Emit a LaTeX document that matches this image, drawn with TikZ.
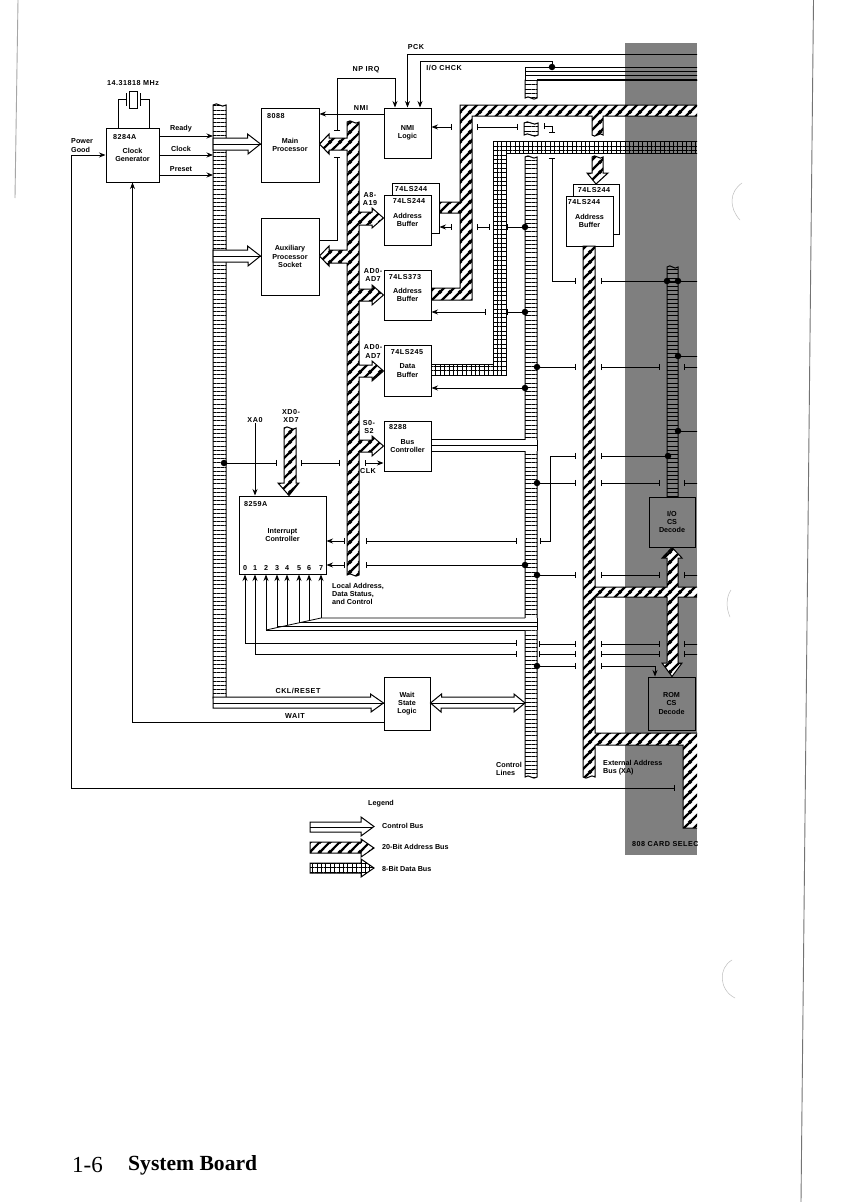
\documentclass[tikz,border=0pt]{standalone}
\usepackage{fontspec}
\setmainfont{Liberation Sans}
\newfontfamily\lblfont{Liberation Sans}
\newfontfamily\idfont[LetterSpace=7]{Liberation Sans}
\newfontfamily\pagefont{Liberation Serif}
\usetikzlibrary{patterns, patterns.meta, arrows.meta}
\pgfdeclarepatternformonly{addrstripes}{\pgfqpoint{0pt}{0pt}}{\pgfqpoint{10pt}{10pt}}{\pgfqpoint{10pt}{10pt}}{
    \pgfsetlinewidth{2.4pt}
    \pgfpathmoveto{\pgfqpoint{-2pt}{-2pt}}\pgfpathlineto{\pgfqpoint{12pt}{12pt}}
    \pgfpathmoveto{\pgfqpoint{-12pt}{-2pt}}\pgfpathlineto{\pgfqpoint{2pt}{12pt}}
    \pgfpathmoveto{\pgfqpoint{-2pt}{-12pt}}\pgfpathlineto{\pgfqpoint{12pt}{2pt}}
    \pgfusepath{stroke}}
\tikzstyle{block} = [rectangle, draw=black, fill=white, line width=1pt, inner sep=0pt, text centered, align=center, font=\lblfont\bfseries\fontsize{7.2}{8.3}\selectfont]
\tikzstyle{lbl} = [inner sep=0pt, align=center, font=\lblfont\bfseries\fontsize{7.2}{8.3}\selectfont]
\tikzstyle{leftlbl} = [lbl, anchor=west, align=left]
\tikzstyle{partid} = [inner sep=0pt, align=center, font=\idfont\bfseries\fontsize{7.2}{8.3}\selectfont]
\tikzstyle{wire} = [line width=.8pt]
\tikzstyle{arrow} = [wire,->,>={Stealth[length=6.5pt,width=5pt]}]
\tikzstyle{brk} = [wire,|-|]
\tikzstyle{dot} = [circle, fill=black, inner sep=0pt, minimum size=6.5pt]
\tikzstyle{ladder} = [draw=black, line width=1pt, preaction={fill=white}, pattern={Lines[angle=0,distance=4.2pt,line width=.8pt]}]
\tikzstyle{ctrlbus} = [draw=black, fill=white, line width=1pt]
\tikzstyle{addrbus} = [draw=black, line width=1pt, preaction={fill=white}, pattern=addrstripes]
\tikzstyle{databus} = [draw=black, line width=1pt, preaction={fill=white}, pattern={Hatch[distance=4.4pt,line width=.5pt]}]
\tikzstyle{scanmark} = [line width=.5pt, draw=black!25]
\begin{document}
\begin{tikzpicture}[x=1pt,y=-1pt]
    \useasboundingbox (0,0) rectangle (858,1202);
    \fill [white] (0,0) rectangle (858,1202);

    % columns the wires stop at
    \coordinate (lbusW) at (213,0);
    \coordinate (lbusE) at (226,0);
    \coordinate (cbusW) at (525,0);
    \coordinate (cbusE) at (537,0);
    \coordinate (brkA) at (576,0);
    \coordinate (brkB) at (601,0);
    \coordinate (brkC) at (660,0);
    \coordinate (brkD) at (684,0);
    \coordinate (brkE) at (452,0);
    \coordinate (brkF) at (477,0);
    \coordinate (brkG) at (507,0);
    \coordinate (brkH) at (366,0);
    \coordinate (brkI) at (517,0);
    \coordinate (brkJ) at (345,0);
    \coordinate (cutR) at (702,0);

    \begin{scope}
    \clip (0,0) rectangle (697,1202);

    % control buses
    \draw [ladder] (213,105) .. controls (218,101) and (221,109) .. (226,105) -- (226,698) -- (213,698) -- cycle;
    \draw [ladder] (525,157) .. controls (529,153) and (533,161) .. (537,157) -- (537,777) .. controls (533,781) and (529,773) .. (525,777) -- cycle;
    \draw [ladder] (667,267) .. controls (671,263) and (674,271) .. (678,267) -- (678,497) -- (667,497) -- cycle;
    \draw [ladder] (524,123) .. controls (528,119) and (534,127) .. (538,123) -- (538,135) .. controls (534,139) and (528,131) .. (524,135) -- cycle;
    \draw [ladder] (525,80) -- (537,80) -- (537,98) .. controls (533,102) and (529,94) .. (525,98) -- cycle;
    \draw [ctrlbus] (702,67) -- (525,67) -- (525,80) -- (537,80) -- (702,80) -- cycle;
    \draw [wire] (525,71) -- (cutR |- 0,71);
    \draw [wire] (525,75) -- (cutR |- 0,75);
    \draw [line width=1.6pt] (537,80) -- (cutR |- 0,80);

    % blocks
    \node (clockgen) [block, minimum width=53pt, minimum height=54pt] at (132.5,155) {Clock\\Generator};
    \node (crystal) [block, minimum width=8pt, minimum height=17pt] at (133,99.5) {};
    \node (mainproc) [block, minimum width=58pt, minimum height=74pt] at (290,145) {Main\\Processor};
    \node (auxproc) [block, minimum width=58pt, minimum height=77pt] at (290,256.5) {Auxiliary\\Processor\\Socket};
    \node (nmilogic) [block, minimum width=47pt, minimum height=50pt] at (407.5,133) {NMI\\Logic};
    \node (addrbackA) [block, minimum width=47pt, minimum height=50pt] at (415.5,208) {};
    \node (addrfrontA) [block, minimum width=47pt, minimum height=50pt] at (407.5,220) {Address\\Buffer};
    \node (addrbufB) [block, minimum width=47pt, minimum height=50pt] at (407.5,295) {Address\\Buffer};
    \node (databuf) [block, minimum width=47pt, minimum height=51pt] at (407.5,370.5) {Data\\Buffer};
    \node (busctl) [block, minimum width=47pt, minimum height=50pt] at (407.5,446) {Bus\\Controller};
    \node (intctl) [block, minimum width=87pt, minimum height=78pt] at (282.5,535) {Interrupt\\Controller};
    \node (waitstate) [block, minimum width=46pt, minimum height=53pt] at (407,703.5) {Wait\\State\\Logic};
    \node (addrbackB) [block, minimum width=46pt, minimum height=50pt] at (596,209) {};
    \node (addrfrontB) [block, minimum width=47pt, minimum height=50pt] at (589.5,221) {Address\\Buffer};
    \node (iocs) [block, minimum width=46pt, minimum height=50pt] at (672,522) {I/O\\CS\\Decode};
    \node (romcs) [block, minimum width=47pt, minimum height=53pt] at (671.5,703.5) {ROM\\CS\\Decode};

    % part numbers
    \node (clockid) [partid, anchor=west] at (113,137) {8284A};
    \node (mainid) [partid, anchor=west] at (267,116) {8088};
    \node (backidA) [partid] at (411,189) {74LS244};
    \node (frontidA) [partid] at (409,201) {74LS244};
    \node (bufidB) [partid] at (405,277) {74LS373};
    \node (dataid) [partid] at (407,352) {74LS245};
    \node (busid) [partid, anchor=west] at (389,427) {8288};
    \node (intid) [partid, anchor=west] at (244,504) {8259A};
    \node (backidB) [partid] at (594,190) {74LS244};
    \node (frontidB) [partid] at (584,202) {74LS244};
    \node (irq0) [partid] at (245,568) {0};
    \node (irq1) [partid] at (255,568) {1};
    \node (irq2) [partid] at (266,568) {2};
    \node (irq3) [partid] at (277,568) {3};
    \node (irq4) [partid] at (287,568) {4};
    \node (irq5) [partid] at (299,568) {5};
    \node (irq6) [partid] at (309,568) {6};
    \node (irq7) [partid] at (321,568) {7};

    % labels
    \node (xtallbl) [partid] at (133,83) {14.31818 MHz};
    \node (pwrlbl) [leftlbl] at (71,145.5) {Power\\Good};
    \node (readylbl) [lbl] at (181,129) {Ready};
    \node (clocklbl) [lbl] at (181,149) {Clock};
    \node (presetlbl) [lbl] at (181,169) {Preset};
    \node (nplbl) [partid] at (366,70) {NP IRQ};
    \node (nmilbl) [partid] at (361,108) {NMI};
    \node (pcklbl) [partid] at (416,47) {PCK};
    \node (iolbl) [partid] at (444,68) {I/O CHCK};
    \node (a8lbl) [partid] at (370,199) {A8-\\A19};
    \node (ad0lblA) [partid] at (373,275) {AD0-\\AD7};
    \node (ad0lblB) [partid] at (373,351.5) {AD0-\\AD7};
    \node (s0lbl) [partid] at (369,427) {S0-\\S2};
    \node (clklbl) [partid] at (368,471) {CLK};
    \node (xa0) [partid] at (255,420) {XA0};
    \node (xd0) [partid] at (291,416) {XD0-\\XD7};
    \node (locallbl) [leftlbl] at (332,594) {Local Address,\\Data Status,\\and Control};
    \node (ckllbl) [partid] at (298,691) {CKL/RESET};
    \node (waitlbl) [partid] at (295,716) {WAIT};
    \node (ctllbl) [leftlbl] at (496,769) {Control\\Lines};
    \node (extlbl) [leftlbl] at (603,767.5) {External Address\\Bus (XA)};
    \node (cardlbl) [partid, anchor=west] at (632,844) {808 CARD SELECT};
    \node (legendlbl) [lbl] at (381,804) {Legend};
    \node (legctrl) [leftlbl] at (382,826) {Control Bus};
    \node (legaddr) [leftlbl] at (382,847) {20-Bit Address Bus};
    \node (legdata) [leftlbl] at (382,869) {8-Bit Data Bus};

    % crystal
    \coordinate (xtalL) at (126,99.5);
    \coordinate (xtalR) at (140,99.5);
    \draw [wire] (126,93) -- (126,106);
    \draw [wire] (140,93) -- (140,106);
    \draw [wire] (xtalL) -| (118,0 |- clockgen.north);
    \draw [wire] (xtalR) -| (149,0 |- clockgen.north);

    % clock generator wires
    \draw [arrow] (clockgen.east |- 0,136) -- (lbusW |- 0,136);
    \draw [arrow] (clockgen.east |- 0,155) -- (lbusW |- 0,155);
    \draw [arrow] (clockgen.east |- 0,175) -- (lbusW |- 0,175);
    \coordinate (brkPwr) at (675,788);
    \draw [arrow,|->] (brkPwr) -| (71,155) -- (clockgen.west);
    \draw [arrow] (waitstate.west |- 0,722) -| (clockgen.south);

    % NMI wires
    \node (iochk) [dot] at (552,67) {};
    \draw [arrow] (nmilogic.west |- 0,114) -- (mainproc.east |- 0,114);
    \draw [arrow,|->] (337,131) |- (395,78) -- (395,0 |- nmilogic.north);
    \draw [wire,-|] (auxproc.east |- 0,240) -| (337,157);
    \draw [arrow] (cutR |- 0,54) -| (nmilogic.north);
    \draw [arrow] (iochk) -- (552,61) -- (420,61) -- (420,0 |- nmilogic.north);
    \draw [arrow,|->] (brkE |- 0,127) -- (nmilogic.east |- 0,127);
    \draw [brk] (brkF |- 0,127) -- (518,127);
    \draw [brk] (544,126) -- (552,126) -- (552,133);

    % buffer wires
    \node (d227) [dot] at (525,227) {};
    \node (d312) [dot] at (525,312) {};
    \node (d388) [dot] at (525,388) {};
    \draw [arrow,|->] (brkE |- d227) -- (addrbackA.east |- d227);
    \draw [brk] (brkF |- d227) -- (490,227);
    \draw [wire,|-] (brkG |- d227) -- (d227);
    \draw [arrow,|->] (486,312) -- (addrbufB.east |- d312);
    \draw [wire,|-] (brkG |- d312) -- (d312);
    \draw [arrow] (d388) -- (databuf.east |- d388);
    \draw [arrow,|->] (365,463) -- (busctl.west |- 0,463);

    % wires to the right of the control bus
    \draw [brk] (552,158) |- (brkA |- 0,281);
    \node (d281a) [dot] at (667,281) {};
    \node (d281b) [dot] at (678,281) {};
    \draw [wire,|-] (brkB |- d281a) -- (cutR |- d281a);
    \node (d356) [dot] at (678,356) {};
    \draw [wire] (d356) -- (cutR |- d356);
    \node (d431) [dot] at (678,431) {};
    \draw [wire] (d431) -- (cutR |- d431);
    \node (d367) [dot] at (537,367) {};
    \draw [wire,-|] (d367) -- (brkA |- d367);
    \draw [brk] (brkB |- d367) -- (brkC |- d367);
    \draw [wire,|-] (brkD |- d367) -- (cutR |- d367);
    \node (d456) [dot] at (668,456) {};
    \draw [brk] (540,541) -- (550,541) -- (550,456) -- (brkA |- d456);
    \draw [wire,|-] (brkB |- d456) -- (d456);
    \node (d483) [dot] at (537,483) {};
    \draw [wire,-|] (d483) -- (brkA |- d483);
    \draw [brk] (brkB |- d483) -- (brkC |- d483);
    \draw [wire,|-] (brkD |- d483) -- (cutR |- d483);
    \node (d575) [dot] at (537,575) {};
    \draw [wire,-|] (d575) -- (brkA |- d575);
    \draw [brk] (brkB |- d575) -- (brkC |- d575);
    \draw [wire,|-] (brkD |- d575) -- (cutR |- d575);
    \draw [brk] (539,644) -- (brkA |- 0,644);
    \draw [brk] (brkB |- 0,644) -- (brkC |- 0,644);
    \draw [wire,|-] (brkD |- 0,644) -- (cutR |- 0,644);
    \draw [brk] (539,654) -- (brkA |- 0,654);
    \draw [brk] (brkB |- 0,654) -- (brkC |- 0,654);
    \draw [wire,|-] (brkD |- 0,654) -- (cutR |- 0,654);
    \node (d666) [dot] at (537,666) {};
    \draw [wire,-|] (d666) -- (brkA |- d666);
    \draw [arrow,|->] (brkB |- d666) -| (655,0 |- romcs.north);

    % interrupt controller wires
    \node (d463) [dot] at (224,463) {};
    \draw [wire,-|] (d463) -- (277,463);
    \draw [brk] (301,463) -- (340,463);
    \draw [arrow] (xa0.south) -- (xa0 |- intctl.north);
    \draw [arrow,|->] (brkJ |- 0,541) -- (intctl.east |- 0,541);
    \draw [brk] (brkH |- 0,541) -- (brkI |- 0,541);
    \node (d565) [dot] at (525,565) {};
    \draw [arrow,|->] (brkJ |- d565) -- (intctl.east |- d565);
    \draw [wire,|-] (brkH |- d565) -- (d565);
    \draw [arrow,|->] (brkI |- 0,643) -| (irq0 |- intctl.south);
    \draw [arrow,|->] (brkI |- 0,654) -| (irq1 |- intctl.south);
    \draw [arrow] (irq2 |- 0,630) -- (irq2 |- intctl.south);
    \draw [arrow] (irq3 |- 0,627.6) -- (irq3 |- intctl.south);
    \draw [arrow] (irq4 |- 0,625.4) -- (irq4 |- intctl.south);
    \draw [arrow] (irq5 |- 0,622.8) -- (irq5 |- intctl.south);
    \draw [arrow] (irq6 |- 0,620.6) -- (irq6 |- intctl.south);
    \draw [arrow] (irq7 |- 0,618) -- (irq7 |- intctl.south);
    \fill [white] (irq2 |- 0,630) -- (irq7 |- 0,618) -- (cbusE |- 0,618) -- (cbusE |- 0,630) -- cycle;
    \draw [wire] (irq2 |- 0,630) -- (irq7 |- 0,618) -- (cbusW |- 0,618);
    \draw [wire] (irq5 |- 0,622) -- (cbusE |- 0,622);
    \draw [wire] (irq3 |- 0,626) -- (cbusE |- 0,626);
    \draw [wire] (irq2 |- 0,630) -- (cbusW |- 0,630);
    \draw [wire] (cbusE |- 0,618) -- (cbusE |- 0,630);

    % control bus arrows
    \draw [ctrlbus] (mainproc.west |- 0,144) -- ++(-13,-10) -- ++(0,4) -- (213,138) -- (213,150) -- (248,150) -- ++(0,4) -- cycle;
    \draw [wire] (lbusW |- 0,144) -- (mainproc.west |- 0,144);
    \draw [ctrlbus] (auxproc.west |- 0,256) -- ++(-13,-10) -- ++(0,4) -- (213,250) -- (213,262) -- (248,262) -- ++(0,4) -- cycle;
    \draw [wire] (lbusW |- 0,256) -- (auxproc.west |- 0,256);
    \draw [ctrlbus] (waitstate.west |- 0,703) -- ++(-13,-9) -- ++(0,3) -- (226,697) -- (213,697) -- (213,708) -- (371,708) -- ++(0,4) -- cycle;
    \draw [wire] (lbusW |- 0,703) -- (waitstate.west |- 0,703);
    \draw [ctrlbus] (waitstate.east |- 0,703) -- ++(11,-9) -- ++(0,3) -- (514,697) -- ++(0,-3) -- (cbusW |- 0,703) -- (514,712) -- ++(0,-4) -- (441,708) -- ++(0,4) -- cycle;
    \draw [wire] (waitstate.east |- 0,703) -- (cbusW |- 0,703);
    \fill [white] (busctl.east |- 0,440) rectangle (cbusE |- 0,451);
    \draw [line width=1.6pt] (busctl.east |- 0,439.5) -- (cbusW |- 0,439.5);
    \draw [line width=1.6pt] (busctl.east |- 0,451.5) -- (cbusW |- 0,451.5);
    \draw [wire] (busctl.east |- 0,445.5) -- (cbusE |- 0,445.5);
    \draw [wire] (cbusE |- 0,440) -- (cbusE |- 0,451);

    % data bus
    \draw [databus] (702,141) -- (493,141) -- (493,364) -- (databuf.east |- 0,364) -- (databuf.east |- 0,375) -- (506,375) -- (506,153) -- (702,153) -- cycle;

    % legend
    \draw [ctrlbus] (310,822) -- (361,822) -- ++(0,-5) -- (374,826.5) -- (361,836) -- ++(0,-4) -- (310,832) -- cycle;
    \draw [wire] (310,827) -- (372,827);
    \draw [databus] (310,863) -- (361,863) -- ++(0,-4) -- (374,868) -- (361,877) -- ++(0,-4) -- (310,873) -- cycle;

    % shaded area
    \fill [black, fill opacity=.5] (625,43) rectangle (697,855);

    % address buses
    \draw [addrbus] (310,842) -- (361,842) -- ++(0,-3) -- (374,848) -- (361,857) -- ++(0,-4) -- (310,853) -- cycle;
    \draw [addrbus] (347,122) .. controls (351,118) and (355,126) .. (359,122)
        -- (359,212) -- (372,212) -- (372,208) -- (addrfrontA.west |- 0,218) -- (372,228) -- (372,225) -- (359,225)
        -- (359,289) -- (372,289) -- (372,285) -- (addrbufB.west |- 0,295) -- (372,305) -- (372,301) -- (359,301)
        -- (359,365) -- (372,365) -- (372,361) -- (databuf.west |- 0,371) -- (372,381) -- (372,377) -- (359,377)
        -- (359,440) -- (372,440) -- (372,436) -- (busctl.west |- 0,446) -- (372,456) -- (372,452) -- (359,452)
        -- (359,575) .. controls (355,579) and (351,571) .. (347,575)
        -- (347,263) -- (329,263) -- (329,266) -- (auxproc.east |- 0,256) -- (329,246) -- (329,250) -- (347,250)
        -- (347,150) -- (329,150) -- (329,154) -- (mainproc.east |- 0,144) -- (329,134) -- (329,138) -- (347,138) -- cycle;
    \draw [addrbus] (702,105) -- (460,105) -- (460,202) -- (addrbackA.east |- 0,202) -- (addrbackA.east |- 0,213) -- (460,213)
        -- (460,288) -- (addrbufB.east |- 0,288) -- (addrbufB.east |- 0,300) -- (472,300) -- (472,116)
        -- (592,116) -- (592,135) .. controls (595,139) and (600,131) .. (603,135) -- (603,116) -- (702,116) -- cycle;
    \draw [addrbus] (592,157) .. controls (595,153) and (600,161) .. (603,157) -- (603,173) -- (608,173) -- (addrbackB.north |- 0,184) -- (587,173) -- (592,173) -- cycle;
    \draw [addrbus] (284,428) .. controls (288,424) and (292,432) .. (296,428) -- (296,483) -- (299,483) -- (intctl.north -| 289,0) -- (278,483) -- (284,483) -- cycle;
    \draw [addrbus] (583,246) -- (583,777) .. controls (587,781) and (591,773) .. (595,777)
        -- (595,745) -- (683,745) -- (683,828) -- (702,828) -- (702,733) -- (595,733)
        -- (595,597) -- (667,597) -- (667,663) -- (662,663) -- (romcs.north -| 672,0) -- (682,663) -- (678,663) -- (678,597) -- (702,597)
        -- (702,587) -- (678,587) -- (678,558) -- (682,558) -- (iocs.south -| 672,0) -- (662,558) -- (667,558) -- (667,587) -- (595,587) -- (595,246) -- cycle;
    \end{scope}

    % page
    \node (pagenum) [inner sep=0pt, anchor=west, font=\pagefont\fontsize{23}{26}\selectfont] at (72,1165) {1-6};
    \node (pagetitle) [inner sep=0pt, anchor=west, font=\pagefont\bfseries\fontsize{21.6}{26}\selectfont] at (128,1165) {System Board};
    \draw [line width=.9pt, black!55] (813.5,0) -- (801,1202);
    \draw [line width=.9pt, black!35] (18,0) -- (15,198);
    \draw [scanmark] (742,183) .. controls (729,192) and (729,208) .. (740,220);
    \draw [scanmark] (731,590) .. controls (726,597) and (726,608) .. (730,617);
    \draw [scanmark] (732,960) .. controls (718,968) and (719,990) .. (735,998);
\end{tikzpicture}
\end{document}
